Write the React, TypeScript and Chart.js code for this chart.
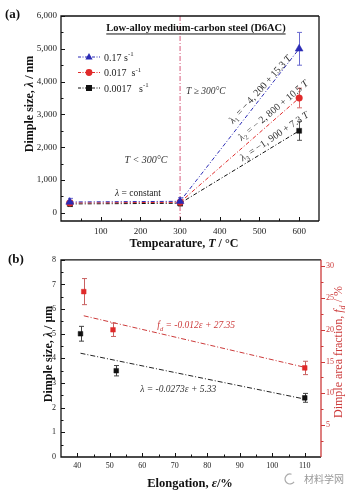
import React, { useEffect, useRef } from 'react';
import { Chart, registerables } from 'chart.js';
Chart.register(...registerables);

const SERIF = '"Liberation Serif", "Times New Roman", serif';
const CJK = '"Noto Sans CJK SC", sans-serif';

// ---------- Panel (a) data ----------
const A_TEMP = [22, 300, 600];
const A_BLUE = [330, 350, 5000];
const A_BLUE_ERR = [110, 110, 500];
const A_RED = [300, 320, 3500];
const A_RED_ERR = [80, 80, 300];
const A_BLACK = [270, 290, 2500];
const A_BLACK_ERR = [80, 80, 290];
const A_RATES = ['0.17 s', '0.017  s', '0.0017   s'];
const A_CUTOFF_T = 300;
const A_X_TICKS = [50, 100, 150, 200, 250, 300, 350, 400, 450, 500, 550, 600];
const A_Y_TICKS = [0, 500, 1000, 1500, 2000, 2500, 3000, 3500, 4000, 4500, 5000, 5500, 6000];

// ---------- Panel (b) data ----------
const B_ELONG_SIZE = [41, 52, 110];
const B_SIZE = [5.0, 3.5, 2.4];
const B_SIZE_ERR = [0.3, 0.21, 0.18];
const B_ELONG_FRAC = [42, 51, 110];
const B_FRAC = [26.0, 20.0, 14.0];
const B_FRAC_ERR = [2.05, 1.05, 1.05];
const B_SIZE_FIT_X = [41, 110];
const B_SIZE_FIT_Y = [4.21, 2.35];
const B_FRAC_FIT_X = [42, 110];
const B_FRAC_FIT_Y = [22.2, 14.1];
const B_X_TICKS = [40, 45, 50, 55, 60, 65, 70, 75, 80, 85, 90, 95, 100, 105, 110];
const B_Y_TICKS = [0, 0.5, 1, 1.5, 2, 2.5, 3, 3.5, 4, 4.5, 5, 5.5, 6, 6.5, 7, 7.5, 8];
const B_Y2_TICKS = [2.5, 5, 7.5, 10, 12.5, 15, 17.5, 20, 22.5, 25, 27.5, 30];

const BLUE = '#2b2bb5';
const RED = '#e02a2a';
const DARKRED = '#cc3a3a';
const BLACK = '#111';
const DASHDOT = [4, 2, 1, 2];

type Seg = { t: string; italic?: boolean; bold?: boolean; sub?: boolean; sup?: boolean };
type RichOpts = {
  size: number; color: string; align?: 'left' | 'center' | 'right'; angle?: number;
  bold?: boolean; italic?: boolean; underline?: boolean; family?: string;
};

function drawRich(ctx: CanvasRenderingContext2D, segs: Seg[], x: number, y: number, o: RichOpts) {
  ctx.save();
  ctx.translate(x, y);
  if (o.angle) ctx.rotate((o.angle * Math.PI) / 180);
  ctx.textBaseline = 'alphabetic';
  ctx.textAlign = 'left';
  ctx.fillStyle = o.color;
  const fam = o.family || SERIF;
  const fnt = (s: Seg) => {
    const size = s.sub || s.sup ? o.size * 0.68 : o.size;
    const bold = s.bold ?? o.bold;
    const it = s.italic ?? o.italic;
    return `${it ? 'italic' : 'normal'} ${bold ? 'bold' : 'normal'} ${size}px ${fam}`;
  };
  let total = 0;
  const widths = segs.map((s) => {
    ctx.font = fnt(s);
    const w = ctx.measureText(s.t).width;
    total += w;
    return w;
  });
  let cx = o.align === 'center' ? -total / 2 : o.align === 'right' ? -total : 0;
  const start = cx;
  const base = o.size * 0.35;
  segs.forEach((s, i) => {
    ctx.font = fnt(s);
    const dy = s.sub ? o.size * 0.25 : s.sup ? -o.size * 0.42 : 0;
    ctx.fillText(s.t, cx, base + dy);
    cx += widths[i];
  });
  if (o.underline) {
    ctx.strokeStyle = o.color;
    ctx.lineWidth = 1;
    ctx.beginPath();
    ctx.moveTo(start, base + 2.5);
    ctx.lineTo(start + total, base + 2.5);
    ctx.stroke();
  }
  ctx.restore();
}

function marker(ctx: CanvasRenderingContext2D, style: string, x: number, y: number, r: number, color: string) {
  ctx.save();
  ctx.fillStyle = color;
  ctx.beginPath();
  if (style === 'triangle') {
    ctx.moveTo(x, y - r);
    ctx.lineTo(x + r * 0.9, y + r * 0.6);
    ctx.lineTo(x - r * 0.9, y + r * 0.6);
    ctx.closePath();
  } else if (style === 'circle') {
    ctx.arc(x, y, r * 0.85, 0, Math.PI * 2);
  } else {
    ctx.rect(x - r * 0.75, y - r * 0.75, r * 1.5, r * 1.5);
  }
  ctx.fill();
  ctx.restore();
}

function drawErrors(chart: any) {
  const ctx: CanvasRenderingContext2D = chart.ctx;
  chart.data.datasets.forEach((ds: any, i: number) => {
    if (!ds.errors) return;
    const meta = chart.getDatasetMeta(i);
    const xs = chart.scales[meta.xAxisID];
    const ys = chart.scales[meta.yAxisID];
    ctx.save();
    ctx.strokeStyle = ds.errColor || ds.borderColor;
    ctx.lineWidth = 1;
    ctx.setLineDash([]);
    ds.data.forEach((p: any, j: number) => {
      const e = ds.errors[j];
      const px = Math.round(xs.getPixelForValue(p.x)) + 0.5;
      const y1 = ys.getPixelForValue(p.y + e);
      const y2 = ys.getPixelForValue(p.y - e);
      ctx.beginPath();
      ctx.moveTo(px, y1); ctx.lineTo(px, y2);
      ctx.moveTo(px - 2.5, y1); ctx.lineTo(px + 2.5, y1);
      ctx.moveTo(px - 2.5, y2); ctx.lineTo(px + 2.5, y2);
      ctx.stroke();
    });
    ctx.restore();
  });
}

function drawTickMarks(ctx: CanvasRenderingContext2D, scale: any, side: 'bottom' | 'left' | 'right', isMajor: (v: number) => boolean, color: string, a: any) {
  ctx.save();
  ctx.strokeStyle = color;
  ctx.lineWidth = 1;
  ctx.beginPath();
  scale.ticks.forEach((t: any) => {
    const len = isMajor(t.value) ? 4 : 2.5;
    const p = Math.round(scale.getPixelForValue(t.value)) + 0.5;
    if (side === 'bottom') {
      if (p < a.left || p > a.right) return;
      ctx.moveTo(p, a.bottom); ctx.lineTo(p, a.bottom - len);
    } else if (side === 'left') {
      if (p < a.top || p > a.bottom) return;
      ctx.moveTo(a.left, p); ctx.lineTo(a.left + len, p);
    } else {
      if (p < a.top || p > a.bottom) return;
      ctx.moveTo(a.right, p); ctx.lineTo(a.right + len, p);
    }
  });
  ctx.stroke();
  ctx.restore();
}

function frame(ctx: CanvasRenderingContext2D, a: any, rightColor: string) {
  ctx.save();
  ctx.lineWidth = 1.3;
  ctx.strokeStyle = '#111';
  ctx.beginPath();
  ctx.moveTo(a.right, a.top); ctx.lineTo(a.left, a.top); ctx.lineTo(a.left, a.bottom); ctx.lineTo(a.right, a.bottom);
  ctx.stroke();
  ctx.strokeStyle = rightColor;
  ctx.beginPath();
  ctx.moveTo(a.right, a.top); ctx.lineTo(a.right, a.bottom);
  ctx.stroke();
  ctx.restore();
}

const overlayA = {
  id: 'overlayA',
  beforeDatasetsDraw(chart: any) {
    const { ctx, chartArea: a, scales } = chart;
    const px = scales.x.getPixelForValue(A_CUTOFF_T);
    ctx.save();
    ctx.strokeStyle = '#d65a7c';
    ctx.lineWidth = 1;
    ctx.setLineDash([5, 2, 1, 2]);
    ctx.beginPath();
    ctx.moveTo(px, a.top); ctx.lineTo(px, a.bottom);
    ctx.stroke();
    ctx.restore();
    drawErrors(chart);
  },
  afterDraw(chart: any) {
    const { ctx, chartArea: a, scales } = chart;
    const x = scales.x, y = scales.y;
    frame(ctx, a, '#111');
    drawTickMarks(ctx, x, 'bottom', (v) => v % 100 === 0, '#111', a);
    drawTickMarks(ctx, y, 'left', (v) => v % 1000 === 0, '#111', a);
    const X = (v: number) => x.getPixelForValue(v);
    const Y = (v: number) => y.getPixelForValue(v);
    // header
    drawRich(ctx, [{ t: 'Low-alloy medium-carbon steel (D6AC)' }], X(340), Y(5640), { size: 10.5, color: '#111', align: 'center', bold: true, underline: true });
    // legend
    const styles = ['triangle', 'circle', 'square'];
    const colors = [BLUE, RED, BLACK];
    A_RATES.forEach((r, i) => {
      const ly = a.top + 41 + i * 15.5;
      ctx.save();
      ctx.strokeStyle = colors[i];
      ctx.lineWidth = 1;
      ctx.setLineDash([3, 1.5, 1, 1.5]);
      ctx.beginPath();
      ctx.moveTo(a.left + 17, ly); ctx.lineTo(a.left + 39, ly);
      ctx.stroke();
      ctx.restore();
      marker(ctx, styles[i], a.left + 28, ly, 4, colors[i]);
      drawRich(ctx, [{ t: r }, { t: '-1', sup: true }], a.left + 43, ly, { size: 10, color: '#222' });
    });
    // region labels
    drawRich(ctx, [{ t: 'T' }, { t: ' ≥ 300°C' }], X(365), Y(3713), { size: 9.5, color: '#333', align: 'center', italic: true });
    drawRich(ctx, [{ t: 'T < 300°C' }], X(214), Y(1610), { size: 10, color: '#333', align: 'center', italic: true });
    drawRich(ctx, [{ t: 'λ', italic: true }, { t: ' = constant' }], X(194), Y(604), { size: 9.5, color: '#222', align: 'center' });
    // fits
    drawRich(ctx, [{ t: 'λ', italic: true }, { t: '1', sub: true }, { t: ' = − 4, 200 + 15.3 ' }, { t: 'T', italic: true }], X(501), Y(3774), { size: 10, color: '#333', align: 'center', angle: -48 });
    drawRich(ctx, [{ t: 'λ', italic: true }, { t: '2', sub: true }, { t: ' = − 2, 800 + 10.5 ' }, { t: 'T', italic: true }], X(534), Y(3134), { size: 10, color: '#333', align: 'center', angle: -40 });
    drawRich(ctx, [{ t: 'λ', italic: true }, { t: '3', sub: true }, { t: ' = −1, 900 + 7.3 ' }, { t: 'T', italic: true }], X(537), Y(2341), { size: 10, color: '#333', align: 'center', angle: -34 });
    // axis titles
    drawRich(ctx, [{ t: 'Dimple size, ' }, { t: 'λ', italic: true }, { t: ' / nm' }], 29, 104, { size: 12, color: '#111', align: 'center', bold: true, angle: -90 });
    drawRich(ctx, [{ t: 'Tempearature, ' }, { t: 'T', italic: true }, { t: ' / °C' }], 184, 243, { size: 12, color: '#111', align: 'center', bold: true });
    drawRich(ctx, [{ t: '(a)' }], 5, 13, { size: 13, color: '#111', bold: true });
  },
};

const overlayB = {
  id: 'overlayB',
  beforeDatasetsDraw(chart: any) {
    drawErrors(chart);
  },
  afterDraw(chart: any) {
    const { ctx, chartArea: a, scales } = chart;
    const x = scales.x, y = scales.y, y2 = scales.y2;
    frame(ctx, a, DARKRED);
    drawTickMarks(ctx, x, 'bottom', (v) => v % 10 === 0, '#111', a);
    drawTickMarks(ctx, y, 'left', (v) => v % 1 === 0, '#111', a);
    drawTickMarks(ctx, y2, 'right', (v) => v % 5 === 0, DARKRED, a);
    const X = (v: number) => x.getPixelForValue(v);
    const Y = (v: number) => y.getPixelForValue(v);
    drawRich(ctx, [{ t: 'f' }, { t: 'd', sub: true }, { t: ' = -0.012ε + 27.35' }], X(76.6), Y(5.35), { size: 9.5, color: DARKRED, align: 'center', italic: true });
    drawRich(ctx, [{ t: 'λ = -0.0273ε + 5.33' }], X(71.1), Y(2.77), { size: 9.5, color: '#333', align: 'center', italic: true });
    drawRich(ctx, [{ t: 'Dimple size, ' }, { t: 'λ', italic: true }, { t: ' / μm' }], 48, 104, { size: 12, color: '#111', align: 'center', bold: true, angle: -90 });
    drawRich(ctx, [{ t: 'Dimple area fraction, ' }, { t: 'f', italic: true }, { t: 'd', italic: true, sub: true }, { t: ' / %' }], 338, 102, { size: 12, color: DARKRED, align: 'center', angle: -90 });
    drawRich(ctx, [{ t: 'Elongation, ' }, { t: 'ε', italic: true }, { t: '/%' }], 190, 233, { size: 12.5, color: '#111', align: 'center', bold: true });
    drawRich(ctx, [{ t: '(b)' }], 8, 8, { size: 13, color: '#111', bold: true });
    // watermark
    ctx.save();
    ctx.strokeStyle = '#aaa';
    ctx.lineWidth = 1.2;
    ctx.beginPath();
    ctx.arc(290, 229, 5, Math.PI * 0.2, Math.PI * 1.6);
    ctx.stroke();
    ctx.restore();
    drawRich(ctx, [{ t: '材料学网' }], 304, 229, { size: 10, color: '#999', family: CJK });
  },
};

function tickOpts(size: number, color: string, pad: number, label: (v: number) => string) {
  return {
    autoSkip: false,
    maxRotation: 0,
    minRotation: 0,
    padding: pad,
    color,
    font: { family: SERIF, size },
    callback: (v: any) => label(Number(v)),
  };
}
const noGrid = { display: false, drawTicks: false };

function PanelA() {
  const ref = useRef<HTMLCanvasElement>(null);
  useEffect(() => {
    const mk = (ys: number[], errs: number[], color: string, errColor: string, style: string, r: number, label: string) => ({
      label,
      data: A_TEMP.map((t, i) => ({ x: t, y: ys[i] })),
      showLine: true,
      borderColor: color,
      backgroundColor: color,
      borderWidth: 1,
      borderDash: DASHDOT,
      pointStyle: style,
      pointRadius: r,
      pointBorderWidth: 0.5,
      pointBackgroundColor: color,
      pointBorderColor: color,
      errors: errs,
      errColor,
    });
    const chart = new Chart(ref.current as HTMLCanvasElement, {
      type: 'scatter',
      data: {
        datasets: [
          mk(A_BLUE, A_BLUE_ERR, BLUE, '#6a6ad0', 'triangle', 4.5, A_RATES[0]),
          mk(A_RED, A_RED_ERR, RED, '#d66a6a', 'circle', 3.3, A_RATES[1]),
          mk(A_BLACK, A_BLACK_ERR, BLACK, '#555', 'rect', 3.5, A_RATES[2]),
        ] as any,
      },
      options: {
        responsive: false,
        animation: false,
        devicePixelRatio: 1,
        layout: { padding: { top: 16, right: 36, left: 0, bottom: 0 } },
        plugins: { legend: { display: false }, title: { display: false }, tooltip: { enabled: false } },
        scales: {
          x: {
            type: 'linear', min: 0, max: 650,
            grid: noGrid, border: { display: false },
            afterBuildTicks: (s: any) => { s.ticks = A_X_TICKS.map((v) => ({ value: v })); },
            afterFit: (s: any) => { s.height = 29; },
            ticks: tickOpts(9, '#222', 5, (v) => (v % 100 === 0 ? String(v) : '')),
          },
          y: {
            type: 'linear', min: -250, max: 6000,
            grid: noGrid, border: { display: false },
            afterBuildTicks: (s: any) => { s.ticks = A_Y_TICKS.map((v) => ({ value: v })); },
            afterFit: (s: any) => { s.width = 61; },
            ticks: tickOpts(9, '#222', 4, (v) => (v % 1000 === 0 ? v.toLocaleString('en-US') : '')),
          },
        },
      } as any,
      plugins: [overlayA],
    });
    return () => chart.destroy();
  }, []);
  return <canvas ref={ref} width={355} height={250} style={{ display: 'block', width: 355, height: 250 }} />;
}

function PanelB() {
  const ref = useRef<HTMLCanvasElement>(null);
  useEffect(() => {
    const chart = new Chart(ref.current as HTMLCanvasElement, {
      type: 'scatter',
      data: {
        datasets: [
          {
            label: 'size',
            data: B_ELONG_SIZE.map((e, i) => ({ x: e, y: B_SIZE[i] })),
            yAxisID: 'y',
            pointStyle: 'rect', pointRadius: 3.3,
            backgroundColor: BLACK, borderColor: BLACK, pointBorderWidth: 0.5,
            errors: B_SIZE_ERR, errColor: '#444',
          },
          {
            label: 'fraction',
            data: B_ELONG_FRAC.map((e, i) => ({ x: e, y: B_FRAC[i] })),
            yAxisID: 'y2',
            pointStyle: 'rect', pointRadius: 3.3,
            backgroundColor: RED, borderColor: RED, pointBorderWidth: 0.5,
            errors: B_FRAC_ERR, errColor: '#c86060',
          },
          {
            label: 'size fit',
            data: B_SIZE_FIT_X.map((e, i) => ({ x: e, y: B_SIZE_FIT_Y[i] })),
            yAxisID: 'y',
            showLine: true, pointRadius: 0, borderColor: '#222', borderWidth: 1, borderDash: [5, 2, 1, 2],
          },
          {
            label: 'fraction fit',
            data: B_FRAC_FIT_X.map((e, i) => ({ x: e, y: B_FRAC_FIT_Y[i] })),
            yAxisID: 'y2',
            showLine: true, pointRadius: 0, borderColor: DARKRED, borderWidth: 1, borderDash: [5, 2, 1, 2],
          },
        ] as any,
      },
      options: {
        responsive: false,
        animation: false,
        devicePixelRatio: 1,
        layout: { padding: { top: 5, right: 0, left: 0, bottom: 0 } },
        plugins: { legend: { display: false }, title: { display: false }, tooltip: { enabled: false } },
        scales: {
          x: {
            type: 'linear', min: 35, max: 115,
            grid: noGrid, border: { display: false },
            afterBuildTicks: (s: any) => { s.ticks = B_X_TICKS.map((v) => ({ value: v })); },
            afterFit: (s: any) => { s.height = 41; },
            ticks: tickOpts(8, '#222', 4, (v) => (v % 10 === 0 ? String(v) : '')),
          },
          y: {
            type: 'linear', position: 'left', min: 0, max: 8,
            grid: noGrid, border: { display: false },
            afterBuildTicks: (s: any) => { s.ticks = B_Y_TICKS.map((v) => ({ value: v })); },
            afterFit: (s: any) => { s.width = 61; },
            ticks: tickOpts(8, '#222', 5, (v) => (v % 1 === 0 ? String(v) : '')),
          },
          y2: {
            type: 'linear', position: 'right', min: 0, max: 31,
            grid: noGrid, border: { display: false },
            afterBuildTicks: (s: any) => { s.ticks = B_Y2_TICKS.map((v) => ({ value: v })); },
            afterFit: (s: any) => { s.width = 34; },
            ticks: tickOpts(8, DARKRED, 5, (v) => (v % 5 === 0 ? String(v) : '')),
          },
        },
      } as any,
      plugins: [overlayB],
    });
    return () => chart.destroy();
  }, []);
  return <canvas ref={ref} width={355} height={248} style={{ display: 'block', width: 355, height: 248 }} />;
}

export default function App() {
  return (
    <div style={{ position: 'absolute', left: 0, top: 0, width: 355, height: 498, background: '#fff', overflow: 'hidden' }}>
      <PanelA />
      <PanelB />
    </div>
  );
}
